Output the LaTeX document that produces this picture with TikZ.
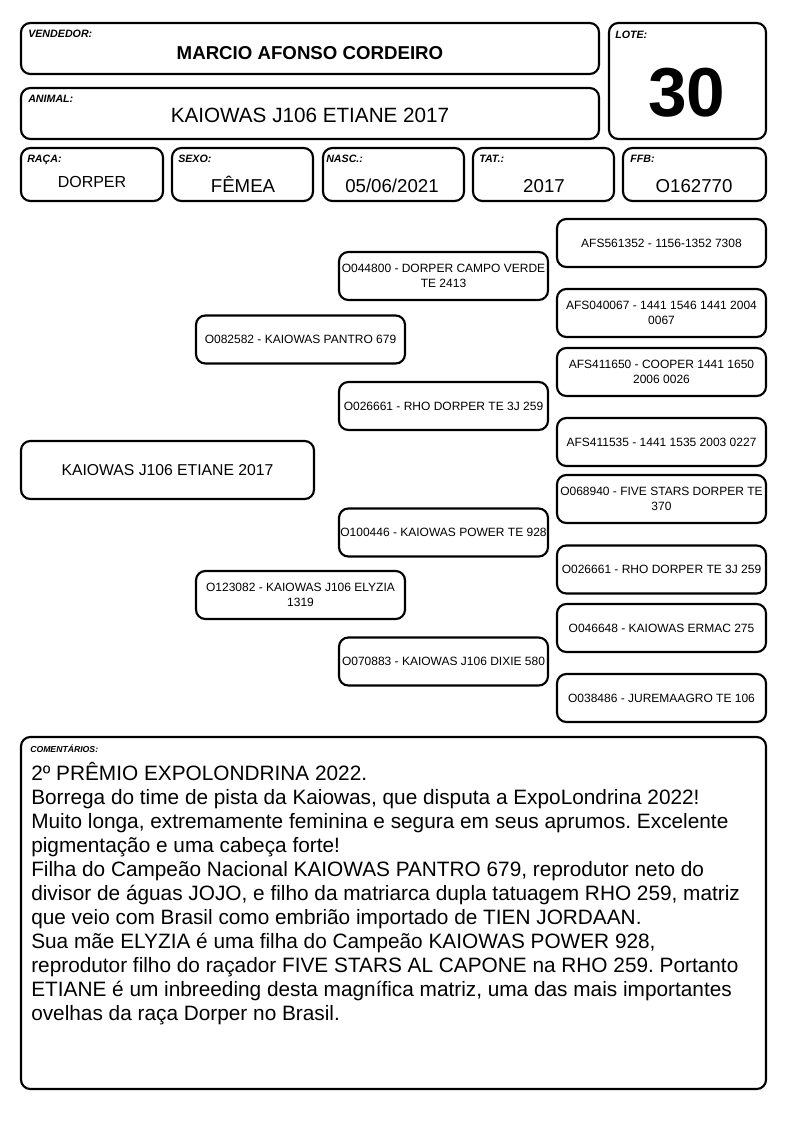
\documentclass[tikz,border=0pt]{standalone}
\usepackage{fontspec}
\setmainfont{Liberation Sans}
\frenchspacing

\begin{document}
\begin{tikzpicture}[x=0.75pt,y=-0.75pt,
    card/.style={line width=1.6pt,rounded corners=7pt},
    tag/.style={anchor=base west,inner sep=0pt,font=\fontsize{8}{9}\selectfont\bfseries\itshape},
    val/.style={anchor=base,inner sep=0pt,font=\fontsize{14}{16}\selectfont},
    pedbox/.style={draw,line width=1.6pt,rounded corners=7pt,minimum width=156.75pt,
                   minimum height=36pt,align=center,inner sep=0pt,font=\fontsize{9}{11.25}\selectfont},
    note/.style={anchor=base west,inner sep=0pt,font=\fontsize{15.6}{18}\selectfont}]
  \useasboundingbox (0,0) rectangle (794,1123);

% seller and animal
  \draw[card] (21,23) rectangle (599,74);
  \node[tag] (vendtag) at (28,38) {VENDEDOR:};
  \node[val,font=\fontsize{14}{16}\selectfont\bfseries] (vend) at (310,60) {MARCIO AFONSO CORDEIRO};
  \draw[card] (21,88) rectangle (599,139);
  \node[tag] (animtag) at (28,103) {ANIMAL:};
  \node[val,font=\fontsize{15.5}{18}\selectfont] (anim) at (310,122.5) {KAIOWAS J106 ETIANE 2017};

% lot number
  \draw[card] (609,23) rectangle (766,139);
  \node[tag] (lotetag) at (615,39) {LOTE:};
  \node[val,font=\fontsize{52}{56}\selectfont\bfseries] (lote) at (687,116.5) {30};

% data row
  \draw[card] (21,148) rectangle (163,201);
  \node[tag] (racatag) at (27,163) {RAÇA:};
  \node[val,font=\fontsize{12}{14}\selectfont] (raca) at (92,188) {DORPER};
  \draw[card] (172,148) rectangle (313,201);
  \node[tag] (sexotag) at (178,163) {SEXO:};
  \node[val] (sexo) at (243,193) {FÊMEA};
  \draw[card] (323,148) rectangle (464,201);
  \node[tag] (nasctag) at (326,163) {NASC.:};
  \node[val] (nasc) at (392,193) {05/06/2021};
  \draw[card] (473,148) rectangle (614,201);
  \node[tag] (tattag) at (479,163) {TAT.:};
  \node[val] (tat) at (544,193) {2017};
  \draw[card] (623,148) rectangle (766,201);
  \node[tag] (ffbtag) at (630,163) {FFB:};
  \node[val] (ffb) at (694,193) {O162770};

% pedigree: animal
  \node[pedbox,minimum width=219.75pt,minimum height=43.5pt,font=\fontsize{11.8}{14}\selectfont]
       (self) at (167.5,470) {KAIOWAS J106 ETIANE 2017};

% parents
  \node[pedbox] (sire) at (300.5,339.5) {O082582 - KAIOWAS PANTRO 679};
  \node[pedbox] (dam)  at (300.5,595)   {O123082 - KAIOWAS J106 ELYZIA\\1319};

% grandparents
  \node[pedbox] (ss) at (443.5,276)   {O044800 - DORPER CAMPO VERDE\\TE 2413};
  \node[pedbox] (sd) at (443.5,406)   {O026661 - RHO DORPER TE 3J 259};
  \node[pedbox] (ds) at (443.5,532.5) {O100446 - KAIOWAS POWER TE 928};
  \node[pedbox] (dd) at (443.5,661.5) {O070883 - KAIOWAS J106 DIXIE 580};

% great-grandparents
  \node[pedbox] (sss) at (661.5,243)   {AFS561352 - 1156-1352 7308};
  \node[pedbox] (ssd) at (661.5,313)   {AFS040067 - 1441 1546 1441 2004\\0067};
  \node[pedbox] (sds) at (661.5,372)   {AFS411650 - COOPER 1441 1650\\2006 0026};
  \node[pedbox] (sdd) at (661.5,442)   {AFS411535 - 1441 1535 2003 0227};
  \node[pedbox] (dss) at (661.5,499)   {O068940 - FIVE STARS DORPER TE\\370};
  \node[pedbox] (dsd) at (661.5,569.5) {O026661 - RHO DORPER TE 3J 259};
  \node[pedbox] (dds) at (661.5,628)   {O046648 - KAIOWAS ERMAC 275};
  \node[pedbox] (ddd) at (661.5,698)   {O038486 - JUREMAAGRO TE 106};

% comments
  \draw[card] (21,737) rectangle (766,1089);
  \node[tag,font=\fontsize{6.5}{8}\selectfont\bfseries\itshape] (notetag) at (30,752) {COMENTÁRIOS:};
  \foreach \ln [count=\i from 0] in {
      {2º PRÊMIO EXPOLONDRINA 2022.},
      {Borrega do time de pista da Kaiowas, que disputa a ExpoLondrina 2022!},
      {Muito longa, extremamente feminina e segura em seus aprumos. Excelente},
      {pigmentação e uma cabeça forte!},
      {Filha do Campeão Nacional KAIOWAS PANTRO 679, reprodutor neto do},
      {divisor de águas JOJO, e filho da matriarca dupla tatuagem RHO 259, matriz},
      {que veio com Brasil como embrião importado de TIEN JORDAAN.},
      {Sua mãe ELYZIA é uma filha do Campeão KAIOWAS POWER 928,},
      {reprodutor filho do raçador FIVE STARS AL CAPONE na RHO 259. Portanto},
      {ETIANE é um inbreeding desta magnífica matriz, uma das mais importantes},
      {ovelhas da raça Dorper no Brasil.}}
    \node[note] (line\i) at (31,780+24*\i) {\ln};
\end{tikzpicture}
\end{document}
